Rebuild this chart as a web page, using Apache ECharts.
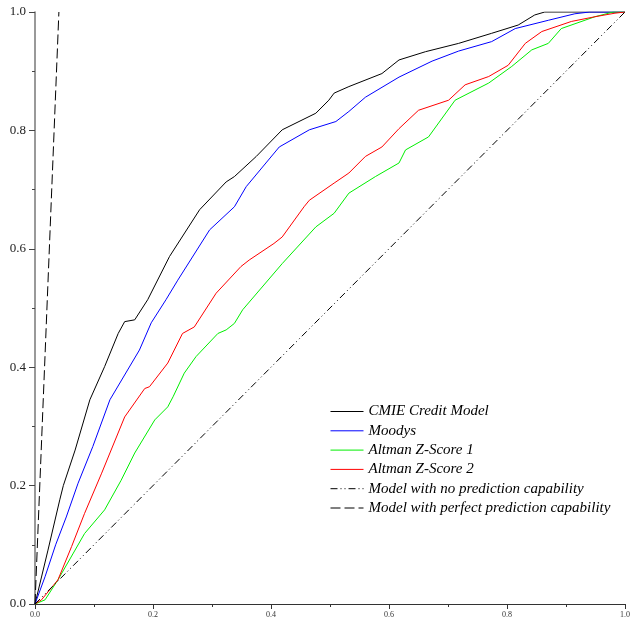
<!DOCTYPE html>
<html>
<head>
<meta charset="utf-8">
<script src="https://cdn.jsdelivr.net/npm/echarts@6/dist/echarts.min.js"></script>
<style>html,body{margin:0;padding:0;background:#fff;}#c{width:633px;height:622px;}</style>
</head>
<body>
<div id="c"></div>
<script>
var seriesNames = ["CMIE Credit Model", "Moodys", "Altman Z-Score 1", "Altman Z-Score 2",
  "Model with no prediction capability", "Model with perfect prediction capability"];

var cmie = [[0,0],[0.022,0.091],[0.042,0.176],[0.048,0.200],[0.068,0.260],[0.093,0.345],[0.118,0.401],
  [0.141,0.457],[0.152,0.477],[0.169,0.480],[0.191,0.514],[0.228,0.587],[0.279,0.666],[0.324,0.713],
  [0.338,0.722],[0.375,0.756],[0.419,0.801],[0.476,0.829],[0.498,0.851],[0.507,0.863],[0.532,0.874],
  [0.588,0.896],[0.617,0.919],[0.662,0.933],[0.718,0.947],[0.774,0.964],[0.819,0.978],[0.847,0.995],
  [0.864,1.0],[1,1]];

var moodys = [[0,0],[0.017,0.046],[0.035,0.100],[0.053,0.147],[0.073,0.204],[0.098,0.266],[0.127,0.345],
  [0.177,0.429],[0.197,0.475],[0.222,0.514],[0.242,0.547],[0.296,0.632],[0.338,0.671],[0.358,0.705],
  [0.414,0.772],[0.465,0.801],[0.510,0.815],[0.532,0.832],[0.560,0.856],[0.617,0.890],[0.673,0.917],
  [0.718,0.934],[0.774,0.950],[0.814,0.972],[0.870,0.986],[0.915,0.997],[0.940,1.0],[1,1]];

var zscore1 = [[0,0],[0.017,0.007],[0.039,0.041],[0.065,0.086],[0.084,0.119],[0.118,0.159],[0.146,0.209],
  [0.169,0.255],[0.203,0.311],[0.225,0.333],[0.234,0.350],[0.253,0.390],[0.273,0.418],[0.310,0.457],
  [0.324,0.463],[0.338,0.474],[0.352,0.497],[0.419,0.575],[0.476,0.637],[0.507,0.660],[0.532,0.694],
  [0.577,0.722],[0.617,0.745],[0.628,0.767],[0.667,0.789],[0.712,0.851],[0.769,0.880],[0.808,0.908],
  [0.842,0.936],[0.870,0.947],[0.892,0.972],[0.949,0.992],[0.980,1.0],[1,1]];

var zscore2 = [[0,0],[0.011,0.007],[0.039,0.041],[0.062,0.097],[0.084,0.153],[0.113,0.221],[0.152,0.316],
  [0.186,0.364],[0.194,0.367],[0.225,0.407],[0.250,0.457],[0.270,0.468],[0.307,0.525],[0.349,0.570],
  [0.363,0.581],[0.405,0.609],[0.419,0.620],[0.456,0.671],[0.465,0.682],[0.507,0.711],[0.532,0.728],
  [0.560,0.756],[0.588,0.772],[0.617,0.803],[0.650,0.834],[0.701,0.851],[0.729,0.877],[0.769,0.891],
  [0.802,0.910],[0.831,0.947],[0.859,0.967],[0.909,0.984],[0.949,0.992],[0.983,0.998],[1,1]];

var noPrediction = [[0,0],[1,1]];
var perfectPrediction = [[0,0],[0.0405,1]];

var tickLabels = ["0.0","0.2","0.4","0.6","0.8","1.0"];

var chart = echarts.init(document.getElementById('c'), null, {renderer: 'canvas'});
var serif = 'Liberation Serif, Times New Roman, serif';
function fmt(v){ return v.toFixed(1); }

function lineSeries(name, data, color, type) {
  return {
    name: name, type: 'line', data: data, symbol: 'none', showSymbol: false,
    lineStyle: {color: color, width: 1, type: type || 'solid'},
    itemStyle: {color: color}, z: 3
  };
}

chart.setOption({
  animation: false,
  backgroundColor: '#fff',
  grid: {left: 35, right: 6, top: 12, bottom: 18, containLabel: false},
  xAxis: {
    type: 'value', min: 0, max: 1, interval: 0.2,
    axisLine: {show: true, onZero: false, lineStyle: {color: '#333', width: 1}},
    axisTick: {show: true, inside: false, length: 5, lineStyle: {color: '#333'}},
    minorTick: {show: true, splitNumber: 2, length: 3, lineStyle: {color: '#333'}},
    splitLine: {show: false},
    axisLabel: {fontFamily: serif, fontSize: 8, color: '#333', margin: 7, formatter: fmt}
  },
  yAxis: {
    type: 'value', min: 0, max: 1, interval: 0.2,
    axisLine: {show: true, onZero: false, lineStyle: {color: '#777', width: 1.5}},
    axisTick: {show: true, inside: false, length: 6, lineStyle: {color: '#444'}},
    minorTick: {show: true, splitNumber: 2, length: 3, lineStyle: {color: '#444'}},
    splitLine: {show: false},
    axisLabel: {fontFamily: serif, fontSize: 13, color: '#222', margin: 9, formatter: fmt}
  },
  legend: {
    orient: 'vertical', left: 330, top: 404, padding: 0,
    itemWidth: 33, itemHeight: 14, itemGap: 4.3,
    itemStyle: {opacity: 0},
    lineStyle: {width: 1},
    textStyle: {fontFamily: serif, fontStyle: 'italic', fontSize: 15, color: '#000'},
    data: seriesNames
  },
  series: [
    lineSeries(seriesNames[0], cmie, '#000000'),
    lineSeries(seriesNames[1], moodys, '#0000ff'),
    lineSeries(seriesNames[2], zscore1, '#00ee00'),
    lineSeries(seriesNames[3], zscore2, '#ff0000'),
    lineSeries(seriesNames[4], noPrediction, '#000000', [7,3,1,3,1,3]),
    lineSeries(seriesNames[5], perfectPrediction, '#000000', [10,4])
  ]
});
</script>
</body>
</html>
